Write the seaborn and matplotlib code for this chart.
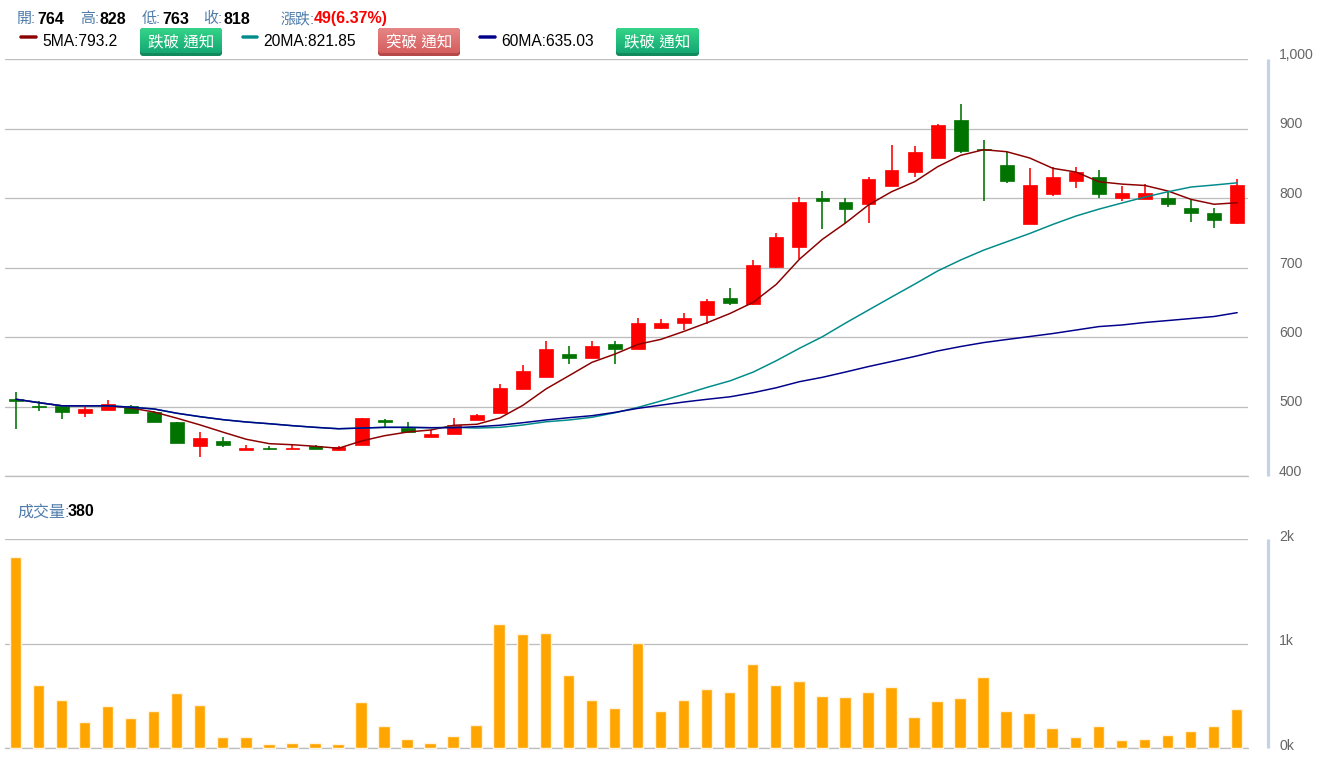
import numpy as np
import pandas as pd
import seaborn as sns
import matplotlib
matplotlib.use('Agg')
import matplotlib.pyplot as plt
from matplotlib.patches import FancyBboxPatch
from matplotlib.transforms import ScaledTranslation

W, H = 1332, 763

opens = [511, 501, 501, 490, 495.5, 501, 492.5, 478, 443, 450, 437, 441, 439, 443, 437, 445, 480, 469,
         456, 461, 480, 490, 525, 543, 576, 570, 590, 583, 613, 620, 632, 656, 648, 701, 729, 800,
         794, 791, 817, 838, 858, 912, 870, 848, 763, 806, 824, 830, 800, 798, 800, 785, 779, 764]
highs = [521, 508, 501, 500, 510, 502, 493, 478, 463, 456, 445, 443, 445, 445, 443, 484, 482, 478,
         466, 484, 489, 532, 559, 594, 587, 594, 594, 628, 626, 635, 654, 671, 711, 749, 802, 810,
         800, 830, 876, 875, 906, 935, 884, 866, 843, 844, 845, 841, 817, 820, 809, 798, 785, 828]
lows = [467, 494, 482, 485, 495, 490, 477, 447, 428, 442, 437, 438, 439, 439, 436, 445, 470, 463,
        456, 461, 480, 490, 525, 543, 561, 570, 561, 583, 611, 610, 619, 646, 646, 700, 712, 755,
        764, 764, 817, 830, 858, 865, 796, 822, 763, 803, 815, 800, 796, 798, 787, 766, 757, 763]
closes = [508, 499, 492, 497, 503, 490, 477, 447, 454, 445, 440, 439, 441, 439, 442, 484, 477, 463,
          461, 474, 488, 527, 551, 583, 570, 587, 583, 620, 620, 628, 652, 649, 703, 744, 794, 796,
          784, 828, 841, 866, 905, 867, 869, 824, 819, 830, 837, 806, 807, 807, 791, 779, 769, 818]

ma5 = [510.4, 505.5, 501, 501, 501, 497.8, 492, 483, 473.4, 462.9, 452.8, 446.5, 445, 442.7, 439.9, 450.4, 458, 463.3,
       466.2, 473, 474.4, 483.5, 501.7, 525.2, 544.3, 563.6, 575.5, 589.5, 596.7, 608.2, 620.6, 634, 650, 675.8, 711.8, 740.6,
       764, 790, 809, 823.4, 845, 861.4, 869.5, 866.6, 857.5, 842.7, 837.4, 823.4, 820, 818, 810, 798, 791, 793.2]
ma20 = [510.4, 505.5, 501, 501, 501, 499, 496.4, 490.2, 485.3, 481, 477.7, 475.2, 472.4, 470, 468, 469, 470, 470, 469.5,
        470, 469, 470, 473.4, 478, 480.6, 484.5, 491, 498.8, 508, 517.6, 527.6, 537, 549.6, 565.9, 583.7, 600.4,
        620, 638.8, 657.5, 676, 695, 710.8, 725, 737, 749, 762, 774, 784, 792.8, 801.4, 809, 815.8, 818.7, 821.85]
ma60 = [510.4, 505.5, 501, 501, 501, 499, 496.4, 490.2, 485.3, 481, 477.7, 475.2, 472.4, 470, 468, 469, 470, 470,
        469.5, 469.5, 471, 473, 476.7, 480.6, 483.9, 486.8, 491.6, 497.4, 502, 506.5, 510.4, 514, 519.9, 527, 535.7, 542,
        549.6, 557.5, 564.7, 572, 579.9, 586.3, 592, 596.4, 600.7, 605, 610, 615, 617.3, 620.9, 623.7, 626.6, 629.5, 635.03]
volumes = [1827, 606, 465, 253, 404, 292, 356, 529, 417, 106, 106, 42, 51, 51, 42, 442, 215, 90,
           48, 113, 225, 1193, 1090, 1106, 701, 463, 389, 1003, 354, 463, 566, 540, 804, 604, 640, 502,
           490, 542, 590, 301, 455, 481, 679, 353, 340, 192, 106, 215, 80, 90, 128, 167, 215, 380]

price_ticks = [400, 500, 600, 700, 800, 900, 1000]
price_labels = ['400', '500', '600', '700', '800', '900', '1,000']
vol_ticks = [0, 1000, 2000]
vol_labels = ['0k', '1k', '2k']

RED = '#ff0000'
GREEN = '#007300'
GRID = '#bdbdbd'
AXIS = '#c3d2e6'
LABEL = '#4f7cab'

sns.set_theme(style='white')
plt.rcParams['font.family'] = ['Liberation Sans', 'Noto Sans CJK TC']
PT = 72 / 100  # px to pt at dpi 100

df = pd.DataFrame({'idx': range(len(opens)), 'open': opens, 'high': highs, 'low': lows, 'close': closes,
                   'ma5': ma5, 'ma20': ma20, 'ma60': ma60, 'volume': volumes})


def add_axes_px(fig, left, top, right, bottom):
    return fig.add_axes([left / W, 1 - bottom / H, (right - left) / W, (bottom - top) / H])


def style_axis(ax, ticks, labels, xlim, ylim, shift_px):
    ax.set_xlim(*xlim)
    ax.set_ylim(*ylim)
    ax.set_xlabel('')
    ax.set_ylabel('')
    ax.set_xticks([])
    ax.set_yticks(ticks)
    ax.set_yticklabels(labels)
    ax.yaxis.tick_right()
    ax.tick_params(axis='y', length=0, pad=11 * PT, labelsize=14 * PT, labelcolor='#666666')
    ax.grid(axis='y', color=GRID, linewidth=1.3 * PT)
    ax.grid(axis='x', visible=False)
    ax.set_axisbelow(True)
    # the grid line on the lower limit gets cut off, draw it again
    ax.axhline(ylim[0], color=GRID, linewidth=1.3 * PT, clip_on=False, zorder=1)
    for s in ['left', 'top', 'bottom']:
        ax.spines[s].set_visible(False)
    ax.spines['right'].set_position(('outward', 20 * PT))
    ax.spines['right'].set_color(AXIS)
    ax.spines['right'].set_linewidth(3.2 * PT)
    ax.spines['right'].set_capstyle('butt')
    ax.patch.set_alpha(0)
    offset = ScaledTranslation(0, shift_px / 100, ax.figure.dpi_scale_trans)
    for t in ax.get_yticklabels():
        t.set_transform(t.get_transform() + offset)


fig = plt.figure(figsize=(W / 100, H / 100), dpi=100)

# candles + moving averages
ax = add_axes_px(fig, 5, 59, 1248, 476)
up = df['close'] >= df['open']
colors = np.where(up, RED, GREEN)
ax.vlines(df['idx'], df['low'], df['high'], colors=colors, linewidth=1.6 * PT, zorder=2)
ax.bar(df['idx'], df['close'] - df['open'], bottom=df['open'], width=0.6, color=colors,
       edgecolor=colors, linewidth=0.7 * PT, zorder=3)
sns.lineplot(data=df, x='idx', y='ma5', color='#8b0000', linewidth=1.5 * PT, ax=ax, estimator=None, zorder=4)
sns.lineplot(data=df, x='idx', y='ma20', color='#008b8b', linewidth=1.5 * PT, ax=ax, estimator=None, zorder=4)
sns.lineplot(data=df, x='idx', y='ma60', color='#00008b', linewidth=1.5 * PT, ax=ax, estimator=None, zorder=4)
style_axis(ax, price_ticks, price_labels, (-0.477, 53.47), (400, 1000), 5.5)

# volume
ax2 = add_axes_px(fig, 5, 539.3, 1248, 748.3)
sns.barplot(data=df, x='idx', y='volume', native_scale=True, color='#ffa500', saturation=1, width=0.5,
            edgecolor='#fff4e0', linewidth=1.4 * PT, ax=ax2, zorder=3)
for p in ax2.patches:
    p.set_clip_on(False)
style_axis(ax2, vol_ticks, vol_labels, (-0.45, 53.497), (0, 2000), 4)

# header overlay in pixel coords
top = fig.add_axes([0, 0, 1, 1])
top.set_xlim(0, W)
top.set_ylim(H, 0)
top.axis('off')
top.patch.set_alpha(0)


def txt(x, y, s, color='black', weight='normal', ha='left', size=16):
    top.text(x, y + 1, s, color=color, fontweight=weight, fontsize=size * PT, ha=ha, va='center', zorder=5)


for x, s in [(17, '開:'), (80, '高:'), (142, '低:'), (203, '收:'), (280, '漲跌:')]:
    txt(x, 18, s, LABEL, size=15)
for x, s in [(37, '764'), (99, '828'), (162, '763'), (223, '818')]:
    txt(x, 18, s, weight='bold')
txt(314, 18, '49(6.37%)', RED, 'bold')
txt(17, 511, '成交量:', LABEL)
txt(68, 511, '380', weight='bold')


def swatch(x0, x1, color):
    top.add_patch(FancyBboxPatch((x0 + 1, 36), x1 - x0 - 2, 2, boxstyle='round,pad=0,rounding_size=1',
                                 fc=color, ec=color, lw=1.4 * PT))


def button(x0, x1, c_top, c_bot, c_edge, label):
    y0, y1 = 28, 56
    top.add_patch(FancyBboxPatch((x0, y0), x1 - x0, y1 - y0, boxstyle='round,pad=0,rounding_size=3',
                                 fc=c_edge, ec='none', zorder=1))
    face = FancyBboxPatch((x0, y0), x1 - x0, y1 - y0 - 3, boxstyle='round,pad=0,rounding_size=3',
                          fc='none', ec='none', transform=top.transData, zorder=1)
    top.add_patch(face)
    ramp = matplotlib.colors.LinearSegmentedColormap.from_list('b', [c_top, c_bot])
    im = top.imshow(np.linspace(0, 1, 32).reshape(-1, 1), cmap=ramp, extent=(x0, x1, y1 - 3, y0),
                    aspect='auto', zorder=2)
    im.set_clip_path(face)
    top.set_xlim(0, W)
    top.set_ylim(H, 0)
    top.text((x0 + x1) / 2, 42, label, color='white', fontsize=15.5 * PT, ha='center', va='center', zorder=3)


swatch(19, 38, '#8b0000')
txt(42.5, 41, '5MA:793.2', size=15.6)
button(140, 222, '#35d488', '#15a874', '#128a5e', '跌破 通知')
swatch(241, 259, '#008b8b')
txt(263, 41, '20MA:821.85', size=15.6)
button(378, 460, '#e68585', '#d65f5f', '#b54848', '突破 通知')
swatch(478, 497, '#00008b')
txt(501, 41, '60MA:635.03', size=15.6)
button(616, 699, '#35d488', '#15a874', '#128a5e', '跌破 通知')

fig.savefig('out.png', dpi=100)
